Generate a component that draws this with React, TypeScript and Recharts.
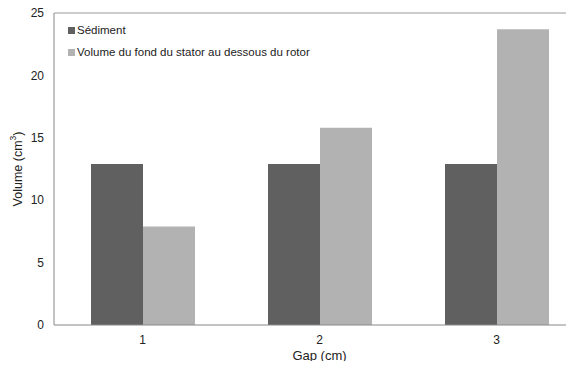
import { BarChart, Bar, XAxis, YAxis, ReferenceLine } from 'recharts';

const gaps = ['1', '2', '3'];
const sediment = [12.9, 12.9, 12.9];
const fondVolume = [7.9, 15.8, 23.7];
const yTicks = [0, 5, 10, 15, 20, 25];

const series = [
  { key: 'sediment', name: 'Sédiment', color: '#606060' },
  { key: 'fond', name: 'Volume du fond du stator au dessous du rotor', color: '#b2b2b2' },
];

const data = gaps.map((g, i) => ({ gap: g, sediment: sediment[i], fond: fondVolume[i] }));

const FONT = '"Liberation Sans", Arial, sans-serif';

// y title with a raised "3"
const VolumeLabel = (props: any) => {
  const vb = props.viewBox || {};
  const cx = 18;
  const cy = vb.y + vb.height / 2;
  return (
    <text
      x={cx}
      y={cy}
      transform={`rotate(-90, ${cx}, ${cy})`}
      textAnchor="middle"
      dominantBaseline="central"
      fill="#222"
      fontSize={12.5}
      fontFamily={FONT}
    >
      Volume (cm
      <tspan fontSize={8.5} dy={-5}>3</tspan>
      <tspan dy={5}>)</tspan>
    </text>
  );
};

export default function App() {
  return (
    <div style={{ margin: -8, width: 574, height: 369, overflow: 'hidden', background: '#fff', position: 'relative' }}>
      <BarChart
        width={590}
        height={369}
        data={data}
        margin={{ top: 13, right: 5, left: 0, bottom: 0 }}
        barCategoryGap={37}
        barGap={0}
      >
        <ReferenceLine y={25} stroke="#999" strokeWidth={1} />
        <XAxis
          dataKey="gap"
          height={44}
          stroke="#888"
          tickLine={false}
          tickMargin={4}
          tick={{ fill: '#222', fontSize: 12, fontFamily: FONT }}
          label={{ value: 'Gap (cm)', position: 'insideBottom', offset: 9, fill: '#222', fontSize: 13, fontFamily: FONT }}
        />
        <YAxis
          width={54}
          domain={[0, 25]}
          ticks={yTicks}
          stroke="#888"
          tickLine={false}
          tickMargin={4}
          tick={{ fill: '#222', fontSize: 12, fontFamily: FONT }}
          label={<VolumeLabel />}
        />
        {series.map((s) => (
          <Bar key={s.key} dataKey={s.key} name={s.name} fill={s.color} isAnimationActive={false} />
        ))}
      </BarChart>
      {/* legend drawn on top, inside the plot area like the original */}
      <div style={{ position: 'absolute', left: 68, top: 19, fontFamily: FONT, fontSize: 11.5, color: '#222' }}>
        {series.map((s) => (
          <div key={s.key} style={{ display: 'flex', alignItems: 'center', height: 22 }}>
            <span style={{ display: 'inline-block', width: 7, height: 7, background: s.color, marginRight: 2 }} />
            <span>{s.name}</span>
          </div>
        ))}
      </div>
    </div>
  );
}
